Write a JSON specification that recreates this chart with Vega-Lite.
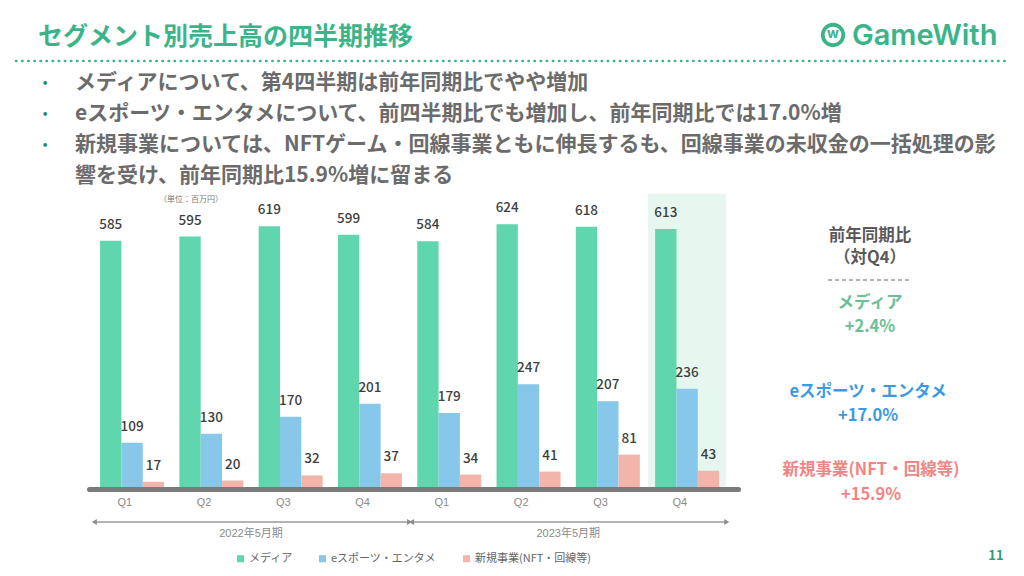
{
  "$schema": "https://vega.github.io/schema/vega-lite/v6.json",
  "autosize": "none",
  "width": 649,
  "height": 297,
  "padding": {"left": 89, "top": 192, "right": 286, "bottom": 87},
  "background": "white",
  "config": {"font": "Noto Sans CJK JP", "view": {"stroke": null}},
  "datasets": {
    "periods": [
      {"period": "2022年5月期", "first": "2022Q1", "last": "2022Q4", "mid": "2022Q2"},
      {"period": "2023年5月期", "first": "2023Q1", "last": "2023Q4", "mid": "2023Q2"}
    ]
  },
  "data": {"values": [
    {"q": "2022Q1", "series": "メディア", "value": 585},
    {"q": "2022Q2", "series": "メディア", "value": 595},
    {"q": "2022Q3", "series": "メディア", "value": 619},
    {"q": "2022Q4", "series": "メディア", "value": 599},
    {"q": "2023Q1", "series": "メディア", "value": 584},
    {"q": "2023Q2", "series": "メディア", "value": 624},
    {"q": "2023Q3", "series": "メディア", "value": 618},
    {"q": "2023Q4", "series": "メディア", "value": 613},
    {"q": "2022Q1", "series": "eスポーツ・エンタメ", "value": 109},
    {"q": "2022Q2", "series": "eスポーツ・エンタメ", "value": 130},
    {"q": "2022Q3", "series": "eスポーツ・エンタメ", "value": 170},
    {"q": "2022Q4", "series": "eスポーツ・エンタメ", "value": 201},
    {"q": "2023Q1", "series": "eスポーツ・エンタメ", "value": 179},
    {"q": "2023Q2", "series": "eスポーツ・エンタメ", "value": 247},
    {"q": "2023Q3", "series": "eスポーツ・エンタメ", "value": 207},
    {"q": "2023Q4", "series": "eスポーツ・エンタメ", "value": 236},
    {"q": "2022Q1", "series": "新規事業(NFT・回線等)", "value": 17},
    {"q": "2022Q2", "series": "新規事業(NFT・回線等)", "value": 20},
    {"q": "2022Q3", "series": "新規事業(NFT・回線等)", "value": 32},
    {"q": "2022Q4", "series": "新規事業(NFT・回線等)", "value": 37},
    {"q": "2023Q1", "series": "新規事業(NFT・回線等)", "value": 34},
    {"q": "2023Q2", "series": "新規事業(NFT・回線等)", "value": 41},
    {"q": "2023Q3", "series": "新規事業(NFT・回線等)", "value": 81},
    {"q": "2023Q4", "series": "新規事業(NFT・回線等)", "value": 43}
  ]},
  "layer": [
    {
      "data": {"values": [{"q": "2023Q4"}]},
      "mark": {"type": "bar", "color": "#e6f7f0", "width": {"band": 1.22}},
      "encoding": {
        "x": {"field": "q", "type": "nominal"},
        "y": {"datum": 696, "type": "quantitative", "axis": null},
        "y2": {"datum": 0}
      }
    },
    {
      "mark": {"type": "bar"},
      "encoding": {
        "x": {
          "field": "q", "type": "nominal",
          "scale": {"type": "band", "domain": ["2022Q1","2022Q2","2022Q3","2022Q4","2023Q1","2023Q2","2023Q3","2023Q4"], "paddingInner": 0.193, "paddingOuter": 0.189, "align": 0.37},
          "axis": {"title": null, "labelExpr": "slice(datum.value, 4)", "labelAngle": 0, "ticks": false, "grid": false, "domainColor": "#7a7a7a", "domainWidth": 5, "domainCap": "round", "labelFont": "Liberation Sans", "labelFontSize": 11, "labelColor": "#8a8a8a", "labelPadding": 13, "labelDx": -4, "zindex": 1}
        },
        "xOffset": {"field": "series", "type": "nominal", "scale": {"domain": ["メディア", "eスポーツ・エンタメ", "新規事業(NFT・回線等)"], "paddingInner": 0, "paddingOuter": 0}},
        "y": {"field": "value", "type": "quantitative", "scale": {"domain": [0, 700]}, "axis": null},
        "color": {
          "field": "series", "type": "nominal",
          "scale": {"domain": ["メディア", "eスポーツ・エンタメ", "新規事業(NFT・回線等)"], "range": ["#5fd6ad", "#87c7e9", "#f2b4ab"]},
          "legend": {"title": null, "orient": "none", "legendX": 146, "legendY": 361, "direction": "horizontal", "symbolType": "square", "symbolSize": 50, "labelFontSize": 11, "labelColor": "#666666", "columnPadding": 24, "labelOffset": 3}
        }
      }
    },
    {
      "mark": {"type": "text", "baseline": "middle", "dy": -16, "fontSize": 13.5, "fontWeight": 500, "color": "#3f3f3f"},
      "encoding": {
        "x": {"field": "q", "type": "nominal"},
        "xOffset": {"field": "series", "type": "nominal"},
        "y": {"field": "value", "type": "quantitative", "axis": null},
        "text": {"field": "value", "type": "quantitative"}
      }
    },
    {
      "data": {"name": "periods"},
      "mark": {"type": "rule", "color": "#9a9a9a", "strokeWidth": 1.5},
      "encoding": {
        "x": {"field": "first", "type": "nominal", "bandPosition": -0.09},
        "x2": {"field": "last", "bandPosition": 1.12},
        "y": {"value": 330}
      }
    },
    {
      "data": {"name": "periods"},
      "mark": {"type": "point", "shape": "triangle-left", "filled": true, "size": 35, "color": "#8c8c8c", "opacity": 1},
      "encoding": {
        "x": {"field": "first", "type": "nominal", "bandPosition": -0.09},
        "y": {"value": 330}
      }
    },
    {
      "data": {"name": "periods"},
      "mark": {"type": "point", "shape": "triangle-right", "filled": true, "size": 35, "color": "#8c8c8c", "opacity": 1},
      "encoding": {
        "x": {"field": "last", "type": "nominal", "bandPosition": 1.12},
        "y": {"value": 330}
      }
    },
    {
      "data": {"name": "periods"},
      "mark": {"type": "text", "font": "Liberation Sans, Noto Sans CJK JP", "fontSize": 11, "color": "#8a8a8a", "baseline": "middle"},
      "encoding": {
        "x": {"field": "mid", "type": "nominal", "bandPosition": 1.12},
        "y": {"value": 342},
        "text": {"field": "period", "type": "nominal"}
      }
    },
    {
      "data": {"values": [{"t": "セグメント別売上高の四半期推移"}]},
      "mark": {"type": "text", "align": "left", "baseline": "middle", "fontSize": 25, "fontWeight": "bold", "color": "#3cb48a"},
      "encoding": {"x": {"value": -51}, "y": {"value": -155}, "text": {"field": "t", "type": "nominal"}}
    },
    {
      "data": {"values": [{"t": "line"}]},
      "mark": {"type": "rule", "color": "#3cb48a", "strokeWidth": 2.4, "strokeDash": [0.5, 5.6], "strokeCap": "round"},
      "encoding": {"x": {"value": -73}, "x2": {"value": 916}, "y": {"value": -131}}
    },
    {
      "data": {"values": [{"t": "GameWith"}]},
      "mark": {"type": "text", "align": "left", "baseline": "middle", "font": "Inter", "fontSize": 29, "fontWeight": 600, "color": "#3cb48a"},
      "encoding": {"x": {"value": 763}, "y": {"value": -156}, "text": {"field": "t", "type": "nominal"}}
    },
    {
      "data": {"values": [{"t": "icon"}]},
      "mark": {"type": "point", "shape": "circle", "filled": false, "size": 420, "strokeWidth": 3.8, "color": "#3cb48a", "opacity": 1},
      "encoding": {"x": {"value": 744}, "y": {"value": -157}}
    },
    {
      "data": {"values": [{"t": "w"}]},
      "mark": {"type": "text", "align": "center", "baseline": "middle", "font": "Inter", "fontSize": 14, "fontWeight": "bold", "color": "#3cb48a"},
      "encoding": {"x": {"value": 744}, "y": {"value": -158}, "text": {"field": "t", "type": "nominal"}}
    },
    {
      "data": {"values": [{"t": "•\n•\n•"}]},
      "mark": {"type": "text", "align": "center", "baseline": "middle", "lineBreak": "\n", "lineHeight": 31, "fontSize": 14, "color": "#1f8a5e"},
      "encoding": {"x": {"value": -44}, "y": {"value": -109}, "text": {"field": "t", "type": "nominal"}}
    },
    {
      "data": {"values": [{"t": "メディアについて、第4四半期は前年同期比でやや増加\neスポーツ・エンタメについて、前四半期比でも増加し、前年同期比では17.0%増\n新規事業については、NFTゲーム・回線事業ともに伸長するも、回線事業の未収金の一括処理の影\n響を受け、前年同期比15.9%増に留まる"}]},
      "mark": {"type": "text", "align": "left", "baseline": "middle", "lineBreak": "\n", "lineHeight": 31, "fontSize": 21, "fontWeight": "bold", "color": "#6b6b6b"},
      "encoding": {"x": {"value": -14}, "y": {"value": -109}, "text": {"field": "t", "type": "nominal"}}
    },
    {
      "data": {"values": [{"t": "（単位：百万円）"}]},
      "mark": {"type": "text", "align": "center", "baseline": "middle", "fontSize": 8, "color": "#777777"},
      "encoding": {"x": {"value": 102}, "y": {"value": 8}, "text": {"field": "t", "type": "nominal"}}
    },
    {
      "data": {"values": [{"t": "前年同期比\n（対Q4）"}]},
      "mark": {"type": "text", "align": "center", "baseline": "middle", "lineBreak": "\n", "lineHeight": 22, "fontSize": 16.5, "fontWeight": "bold", "color": "#595959"},
      "encoding": {"x": {"value": 781}, "y": {"value": 44}, "text": {"field": "t", "type": "nominal"}}
    },
    {
      "data": {"values": [{"t": "sep"}]},
      "mark": {"type": "rule", "color": "#666666", "strokeWidth": 1, "strokeDash": [4, 3]},
      "encoding": {"x": {"value": 739}, "x2": {"value": 823}, "y": {"value": 88}}
    },
    {
      "data": {"values": [{"t": "メディア\n+2.4%"}]},
      "mark": {"type": "text", "align": "center", "baseline": "middle", "lineBreak": "\n", "lineHeight": 24, "fontSize": 16.5, "fontWeight": "bold", "color": "#6bbf96"},
      "encoding": {"x": {"value": 781}, "y": {"value": 111}, "text": {"field": "t", "type": "nominal"}}
    },
    {
      "data": {"values": [{"t": "eスポーツ・エンタメ\n+17.0%"}]},
      "mark": {"type": "text", "align": "center", "baseline": "middle", "lineBreak": "\n", "lineHeight": 24, "fontSize": 16.5, "fontWeight": "bold", "color": "#3a9be3"},
      "encoding": {"x": {"value": 779}, "y": {"value": 200}, "text": {"field": "t", "type": "nominal"}}
    },
    {
      "data": {"values": [{"t": "新規事業(NFT・回線等)\n+15.9%"}]},
      "mark": {"type": "text", "align": "center", "baseline": "middle", "lineBreak": "\n", "lineHeight": 25, "fontSize": 16.5, "fontWeight": "bold", "color": "#f08585"},
      "encoding": {"x": {"value": 782}, "y": {"value": 278}, "text": {"field": "t", "type": "nominal"}}
    },
    {
      "data": {"values": [{"t": "11"}]},
      "mark": {"type": "text", "align": "center", "baseline": "middle", "fontSize": 13, "fontWeight": "bold", "color": "#2e9c74"},
      "encoding": {"x": {"value": 907}, "y": {"value": 364}, "text": {"field": "t", "type": "nominal"}}
    }
  ]
}
